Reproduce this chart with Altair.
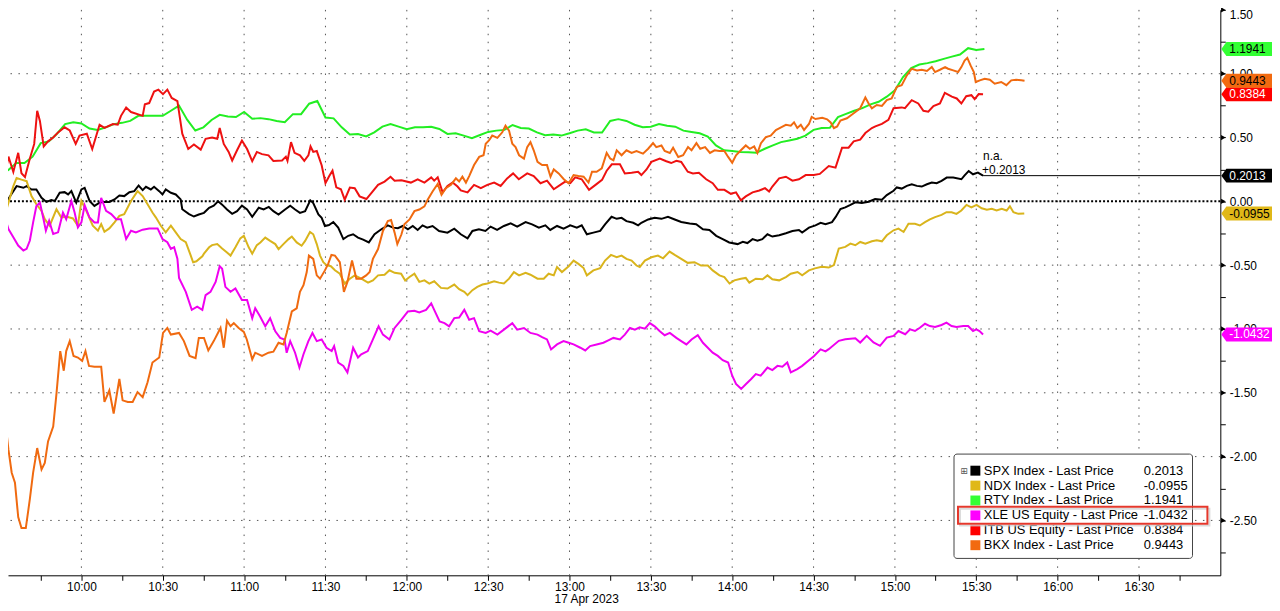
import altair as alt
import pandas as pd

# ---------------- data: (minutes after 09:30, % change) ----------------
spx = [(0,-0.05),(1.8,-0.023),(3.7,0.04),(6.1,0.119),(8.6,0.106),(9.8,0.119),(11.6,0.093),(13.4,0.093),(15.3,0.028),(17.1,-0.005),(18.9,0.01),(20.2,0.003),(22,0.067),(23.8,0.072),(25.1,0.054),(26.3,0.08),(28.1,-0.01),(30,0.093),(31.2,0.106),(33,0.003),(34.8,-0.036),(36.7,-0.01),(37.9,-0.005),(40.3,-0.005),(42.2,0.015),(44,0.046),(45.8,0.041),(47.7,0.072),(49.5,0.08),(51.1,0.124),(52.6,0.088),(53.8,0.114),(55.6,0.093),(56.8,0.114),(58.7,0.08),(59.9,0.054),(61.1,0.093),(63,0.067),(64.8,0.054),(66.6,0.015),(67.2,-0.062),(69.7,-0.10),(71.5,-0.119),(73.3,-0.103),(75.2,-0.09),(77.1,-0.05),(78.8,-0.034),(80.4,0.0),(81.9,-0.026),(83.7,-0.064),(85.6,-0.098),(87.4,-0.077),(89.2,-0.034),(91.1,-0.064),(93,-0.121),(95.4,-0.05),(97.2,-0.064),(99.1,-0.044),(100.8,-0.077),(102.7,-0.103),(105.1,-0.064),(107,-0.034),(108.8,-0.064),(110.6,-0.09),(112.5,-0.077),(114.4,0.008),(115.5,-0.013),(117.4,-0.103),(118.6,-0.129),(119.8,-0.193),(121.3,-0.186),(122.9,-0.162),(124.7,-0.206),(126.6,-0.296),(128.4,-0.27),(130.2,-0.258),(132,-0.284),(133.9,-0.30),(136,-0.322),(138.1,-0.258),(140.6,-0.219),(143,-0.188),(144.9,-0.206),(146.7,-0.21),(148.5,-0.193),(150.4,-0.219),(152.2,-0.193),(154,-0.224),(155.8,-0.188),(157.5,-0.206),(159.5,-0.193),(161.9,-0.232),(165,-0.245),(167.5,-0.214),(169.9,-0.258),(172.4,-0.29),(174.2,-0.232),(176.6,-0.219),(179,-0.232),(180.9,-0.198),(183.3,-0.224),(185.8,-0.193),(188.3,-0.173),(190.7,-0.198),(193.8,-0.162),(196.2,-0.18),(198.7,-0.206),(201.1,-0.188),(202.9,-0.224),(205.4,-0.193),(207.8,-0.214),(210.3,-0.188),(212.7,-0.206),(214.5,-0.188),(216.4,-0.258),(218.8,-0.245),(221.3,-0.232),(223.1,-0.18),(225.5,-0.121),(227.4,-0.137),(229.2,-0.129),(231,-0.155),(233.5,-0.168),(235.3,-0.188),(236.5,-0.168),(239,-0.142),(241.4,-0.129),(243.9,-0.137),(246.3,-0.121),(248.8,-0.142),(251.2,-0.162),(254.3,-0.173),(256.7,-0.18),(259.2,-0.219),(261.6,-0.224),(264.1,-0.27),(266.5,-0.296),(268.9,-0.322),(272,-0.335),(273.9,-0.317),(275.6,-0.327),(277.5,-0.296),(279.3,-0.309),(281.1,-0.296),(283,-0.258),(284.8,-0.276),(287.3,-0.265),(289.8,-0.25),(292.2,-0.232),(294.6,-0.224),(295.8,-0.245),(298.3,-0.206),(300.7,-0.188),(302.6,-0.168),(304.4,-0.18),(306.8,-0.163),(308.1,-0.124),(309.9,-0.06),(311.7,-0.047),(313.6,-0.028),(315.4,-0.008),(317.8,-0.013),(320.3,-0.003),(322.7,0.018),(325.2,0.013),(327,0.049),(329.5,0.083),(330.7,0.109),(332.5,0.10),(334.4,0.121),(336.2,0.134),(338.1,0.121),(339.9,0.116),(341.8,0.134),(343.6,0.147),(345.4,0.142),(347.2,0.16),(349.1,0.186),(351.5,0.186),(354.5,0.173),(355.7,0.204),(357.2,0.238),(358.8,0.212),(360.6,0.225),(362.5,0.2013)]

ndx = [(0,-0.204),(1.2,-0.152),(3.1,-0.01),(4.9,0.119),(6.1,0.183),(7.9,0.17),(9.8,0.158),(11.6,0.041),(13.4,-0.023),(15.3,-0.075),(16.5,-0.14),(18.3,-0.191),(20.8,-0.062),(22.6,-0.127),(24.4,-0.119),(26.9,-0.134),(28.7,-0.191),(30,0.003),(31.8,-0.075),(34.2,-0.191),(36.1,-0.23),(37.3,-0.178),(38.5,-0.238),(40.3,-0.212),(42.2,-0.165),(44,-0.114),(45.8,-0.10),(48.3,0.003),(50.7,0.08),(52.6,0.041),(54.4,-0.023),(56.2,-0.088),(57.5,-0.127),(59.3,-0.191),(61.1,-0.243),(63,-0.191),(64.8,-0.243),(66.6,-0.295),(68.5,-0.32),(70.3,-0.424),(71.2,-0.477),(72.4,-0.47),(74.6,-0.43),(75.2,-0.41),(77.1,-0.36),(78.2,-0.343),(80.1,-0.335),(81.9,-0.369),(83.7,-0.40),(85,-0.425),(86.8,-0.36),(88.6,-0.29),(89.9,-0.27),(91.7,-0.36),(93,-0.41),(94.7,-0.343),(96,-0.322),(97.8,-0.284),(99.6,-0.31),(101.5,-0.335),(102.7,-0.374),(104.5,-0.335),(106.4,-0.296),(107.6,-0.276),(109.4,-0.322),(111.2,-0.348),(112.5,-0.31),(114.3,-0.24),(115.5,-0.258),(116.8,-0.335),(118,-0.425),(119.2,-0.477),(120.4,-0.50),(122,-0.508),(123.5,-0.54),(125.3,-0.567),(127.1,-0.644),(129,-0.606),(130.8,-0.58),(133.2,-0.606),(135.7,-0.637),(137.5,-0.619),(139.4,-0.58),(141.8,-0.575),(143.6,-0.54),(145.5,-0.56),(147.9,-0.567),(149.4,-0.62),(151,-0.593),(152.8,-0.567),(154.6,-0.631),(156.5,-0.619),(158.3,-0.644),(160.1,-0.626),(162.6,-0.678),(165,-0.683),(167.5,-0.652),(169.3,-0.688),(171.2,-0.709),(172.4,-0.735),(174.2,-0.696),(176,-0.67),(177.9,-0.652),(179.7,-0.644),(182.2,-0.626),(184,-0.637),(185.8,-0.644),(187.7,-0.606),(189.5,-0.554),(191.4,-0.58),(193.8,-0.56),(195.6,-0.575),(198.2,-0.606),(200.5,-0.606),(202.3,-0.567),(204.2,-0.58),(205.4,-0.515),(207.2,-0.554),(209.7,-0.508),(211.5,-0.464),(213.3,-0.49),(215.2,-0.523),(216.4,-0.58),(218.8,-0.541),(221.3,-0.523),(223.1,-0.464),(225.3,-0.42),(227.4,-0.438),(229.2,-0.425),(231,-0.451),(232.9,-0.464),(234.7,-0.503),(235.9,-0.515),(237.8,-0.464),(240.2,-0.438),(242.6,-0.425),(244.5,-0.446),(246.9,-0.394),(248.8,-0.42),(251.2,-0.451),(253.6,-0.482),(256.1,-0.477),(258.5,-0.503),(261,-0.503),(262.8,-0.541),(265.3,-0.58),(267.1,-0.593),(269,-0.644),(270.8,-0.619),(273.2,-0.606),(275,-0.60),(276.3,-0.637),(278.7,-0.606),(281.2,-0.611),(283,-0.58),(284.8,-0.611),(287.3,-0.619),(289.8,-0.593),(291.6,-0.567),(294.1,-0.554),(295.8,-0.58),(298.3,-0.541),(300.5,-0.525),(303,-0.512),(305.6,-0.519),(307.5,-0.499),(309.3,-0.37),(311.7,-0.357),(313.6,-0.331),(315.4,-0.344),(317.2,-0.318),(319.1,-0.331),(321.5,-0.313),(323.3,-0.305),(325.2,-0.313),(327,-0.266),(329.5,-0.227),(331.3,-0.214),(333.2,-0.24),(335,-0.176),(337.4,-0.176),(339.2,-0.189),(341.1,-0.163),(342.9,-0.142),(344.8,-0.124),(347.2,-0.106),(349,-0.085),(350.9,-0.085),(352.7,-0.098),(354.5,-0.072),(356.4,-0.028),(358.2,-0.047),(360.1,-0.028),(362,-0.054),(363.9,-0.065),(365.7,-0.059),(367.5,-0.072),(369.4,-0.059),(371.2,-0.072),(372.4,-0.039),(373.7,-0.085),(375.5,-0.098),(377.7,-0.0955)]

rty = [(0,0.206),(3,0.245),(6,0.30),(9,0.30),(12,0.35),(15,0.456),(18,0.47),(21,0.53),(24,0.605),(27,0.62),(30,0.61),(33,0.57),(36,0.56),(39,0.58),(42,0.605),(45,0.615),(48,0.63),(51,0.67),(54,0.67),(57,0.67),(60,0.67),(63,0.71),(66,0.75),(69,0.64),(72,0.555),(75,0.58),(78,0.637),(81,0.678),(84,0.665),(87,0.66),(90,0.70),(93,0.647),(96,0.652),(99,0.644),(102,0.63),(105,0.62),(108,0.683),(111,0.683),(114,0.765),(117,0.786),(120,0.657),(123,0.65),(126,0.58),(129,0.523),(132,0.528),(135,0.508),(138,0.54),(141,0.585),(144,0.605),(147,0.585),(150,0.565),(153,0.58),(156,0.58),(159,0.585),(162,0.567),(165,0.528),(168,0.533),(171,0.515),(174,0.495),(177,0.52),(180,0.544),(183,0.554),(186,0.56),(189,0.598),(192,0.575),(195,0.57),(198,0.54),(201,0.518),(204,0.523),(207,0.515),(210,0.533),(213,0.554),(216,0.564),(219,0.54),(222,0.539),(225,0.63),(228,0.644),(231,0.63),(234,0.60),(237,0.58),(240,0.585),(243,0.606),(246,0.593),(249,0.585),(252,0.554),(255,0.544),(258,0.533),(261,0.508),(264,0.438),(267,0.40),(270,0.394),(273,0.387),(276,0.384),(279,0.381),(282,0.412),(285,0.438),(288,0.464),(291,0.477),(294,0.49),(297,0.515),(300,0.56),(303,0.575),(306,0.576),(309,0.66),(312,0.685),(315,0.71),(318,0.73),(321,0.76),(324,0.78),(327,0.82),(330,0.87),(333,0.974),(336,1.044),(339,1.072),(342,1.083),(345,1.098),(348,1.116),(351,1.134),(354,1.15),(357,1.20),(360,1.186),(363,1.1941)]

xle = [(0,0.003),(1.2,-0.088),(3.1,-0.217),(4.9,-0.282),(6.7,-0.346),(8.6,-0.385),(9.8,-0.372),(11,-0.307),(12.2,-0.165),(13.4,-0.036),(14.7,-0.01),(15.9,-0.127),(16.9,-0.23),(18.1,-0.152),(19.6,-0.256),(21.4,-0.243),(23.2,-0.088),(24.4,-0.14),(26.3,0.003),(27.5,-0.088),(28.7,-0.204),(30,-0.165),(31.2,-0.031),(33,-0.127),(34.8,-0.165),(36.1,-0.165),(37.3,0.028),(39.1,-0.075),(41,-0.10),(42.8,-0.14),(44.6,-0.14),(46.5,-0.295),(48.3,-0.23),(50.1,-0.243),(52.6,-0.222),(55,-0.212),(58.1,-0.212),(59.9,-0.295),(61.7,-0.32),(63,-0.372),(64.2,-0.359),(65.4,-0.45),(66,-0.6),(68.5,-0.709),(70.7,-0.85),(72.7,-0.825),(74.6,-0.85),(75.8,-0.735),(77.6,-0.709),(79.5,-0.631),(81,-0.508),(81.9,-0.528),(83.1,-0.67),(85,-0.709),(86.8,-0.683),(89.2,-0.773),(91.1,-0.773),(93,-0.915),(94.1,-0.838),(95.9,-0.902),(97.8,-0.979),(99.6,-0.915),(101.5,-1.018),(103.3,-1.07),(104.9,-1.082),(105.7,-1.186),(107,-1.095),(108.8,-1.186),(110.4,-1.302),(111.9,-1.198),(113.7,-1.095),(115.2,-1.031),(116.8,-1.095),(118.6,-1.082),(120.4,-1.147),(122.3,-1.173),(123.2,-1.134),(124.7,-1.263),(126.6,-1.289),(128.1,-1.34),(130.2,-1.147),(132,-1.224),(133.2,-1.198),(135.6,-1.173),(137.5,-1.082),(139.6,-0.979),(141.2,-1.044),(143.6,-1.082),(145.5,-0.992),(147.9,-0.93),(150.4,-0.863),(152.8,-0.858),(154.6,-0.871),(157.1,-0.85),(159,-0.799),(160.1,-0.85),(162.1,-0.941),(163.9,-0.954),(165.6,-0.979),(167.5,-0.915),(169.3,-0.91),(171.2,-0.85),(173,-0.928),(174.8,-0.915),(176.7,-1.018),(179.1,-1.031),(180.9,-1.013),(183.4,-1.044),(185.8,-1.005),(188.9,-0.954),(190.7,-1.005),(193.2,-0.992),(195.6,-1.031),(198.2,-1.044),(199.9,-1.064),(201.7,-1.082),(203.2,-1.16),(205.4,-1.121),(207.8,-1.095),(209.7,-1.108),(211.5,-1.121),(214,-1.147),(215.8,-1.168),(217.6,-1.134),(220,-1.121),(222.5,-1.108),(224.3,-1.09),(226.2,-1.07),(228.6,-1.082),(230.4,-1.044),(232.3,-0.992),(234.1,-1.005),(235.9,-0.987),(237.8,-0.997),(239.6,-0.954),(241.4,-0.979),(243.3,-1.018),(245.1,-1.049),(247,-1.031),(249.4,-1.07),(251.2,-1.095),(253.1,-1.121),(255,-1.082),(257.3,-1.049),(259.2,-1.108),(261,-1.147),(262.8,-1.186),(264.7,-1.211),(266.5,-1.245),(268.5,-1.263),(270,-1.366),(271.4,-1.431),(273.3,-1.469),(275.1,-1.431),(277,-1.392),(278.7,-1.353),(280.5,-1.366),(283,-1.302),(284.8,-1.322),(286.7,-1.289),(288.5,-1.296),(290.3,-1.263),(291.6,-1.34),(294,-1.314),(295.8,-1.289),(298.3,-1.245),(300.2,-1.211),(302.6,-1.16),(304.4,-1.175),(305.6,-1.158),(309.3,-1.093),(311.7,-1.08),(315.4,-1.072),(317.2,-1.106),(319.6,-1.054),(322.1,-1.106),(324.5,-1.132),(327,-1.067),(329.5,-1.054),(331.3,-1.016),(333.8,-1.041),(335.6,-1.003),(337.4,-1.016),(339.2,-0.99),(341.1,-0.959),(342.9,-0.977),(344.8,-0.985),(347.2,-0.969),(349,-0.951),(350.9,-0.977),(352.7,-0.985),(355.2,-0.977),(357,-0.977),(358.8,-1.016),(360,-1.003),(361.2,-1.016),(362.5,-1.0432)]

itb = [(0,0.0),(1.2,0.14),(3.1,0.35),(4.9,0.23),(6.7,0.38),(7.9,0.22),(9.2,0.19),(11,0.335),(12.6,0.45),(13.7,0.71),(14.7,0.63),(16.1,0.43),(17.7,0.47),(19.6,0.50),(21.4,0.54),(23.8,0.58),(25.7,0.555),(27.9,0.45),(29.3,0.515),(32,0.53),(34,0.41),(36.7,0.60),(38.5,0.575),(41.6,0.605),(43.4,0.60),(44.6,0.67),(46.5,0.735),(48.3,0.70),(52.6,0.67),(53.4,0.76),(55,0.77),(56.8,0.86),(58.4,0.875),(60.1,0.84),(61.7,0.875),(63.3,0.81),(65.4,0.785),(67.2,0.53),(69.4,0.41),(71.5,0.445),(74,0.405),(75.8,0.49),(78.2,0.50),(80.1,0.49),(81,0.575),(82.5,0.45),(84.3,0.387),(85.6,0.32),(87.4,0.40),(89.2,0.477),(91.1,0.41),(93,0.315),(94.7,0.387),(96.6,0.37),(99,0.36),(100.8,0.317),(104,0.32),(105.4,0.35),(106,0.317),(107.3,0.464),(108.6,0.38),(110.6,0.36),(112.2,0.317),(113.7,0.36),(114.5,0.43),(115.5,0.387),(116.8,0.394),(118.6,0.283),(120,0.142),(121.4,0.198),(122.6,0.24),(124,0.11),(125.7,0.095),(127.1,0.013),(129,0.108),(130.8,0.103),(132.6,0.039),(135.1,0.018),(136.9,0.064),(139.4,0.129),(141.8,0.155),(144,0.193),(145.5,0.162),(148,0.165),(151.5,0.147),(154,0.173),(156.5,0.147),(159,0.188),(160.1,0.162),(161.4,0.188),(163.2,0.07),(165,0.121),(166.9,0.147),(168.7,0.116),(169.9,0.085),(172.4,0.07),(174.8,0.129),(177.3,0.103),(179.7,0.129),(182.2,0.147),(184.6,0.121),(187,0.18),(189.2,0.219),(191.3,0.173),(194.4,0.219),(196.8,0.198),(199.3,0.142),(201.7,0.162),(204.2,0.095),(206.6,0.129),(208.4,0.155),(210.3,0.142),(212.1,0.188),(214.5,0.173),(217.2,0.09),(219.6,0.129),(222,0.168),(223.7,0.24),(225.6,0.29),(228.6,0.29),(230.4,0.219),(232.9,0.224),(235.3,0.232),(236.5,0.206),(238.4,0.25),(240.2,0.309),(243.3,0.335),(245.7,0.314),(247.5,0.30),(249.4,0.317),(251.2,0.309),(253.6,0.232),(255.5,0.219),(257.7,0.224),(260.4,0.173),(262.8,0.142),(264.7,0.09),(267.1,0.09),(269.5,0.059),(271.4,0.07),(273.2,0.008),(275,0.039),(277.5,0.07),(280,0.085),(282.1,0.103),(283.6,0.077),(284.8,0.116),(287.3,0.18),(289.8,0.193),(292.2,0.162),(294.6,0.173),(297.1,0.206),(300.1,0.206),(302.3,0.215),(305.6,0.276),(308.1,0.264),(310.5,0.42),(312.9,0.42),(314.8,0.47),(317.2,0.483),(319.1,0.535),(321.5,0.574),(322.8,0.587),(325.2,0.607),(327.6,0.638),(329.5,0.73),(332.5,0.736),(333.7,0.73),(336.2,0.793),(338.6,0.767),(340.5,0.71),(342.3,0.703),(344.2,0.747),(346.6,0.767),(348.4,0.85),(351,0.82),(352.8,0.806),(354.5,0.767),(356.3,0.824),(358.2,0.832),(359.4,0.80),(360.9,0.84),(362.5,0.8384)]

bkx = [(0,-1.198),(0.6,-1.637),(1.8,-1.70),(3.1,-1.946),(4.3,-2.126),(5.5,-2.204),(6.7,-2.474),(7.9,-2.56),(9.5,-2.56),(11,-2.332),(12.2,-2.126),(13.7,-1.933),(15.3,-2.10),(16.5,-2.049),(17.7,-1.881),(19.6,-1.765),(20.8,-1.508),(22.2,-1.173),(23.5,-1.327),(24.4,-1.173),(25.7,-1.095),(27.1,-1.211),(28.7,-1.224),(30.3,-1.25),(31.5,-1.173),(32.8,-1.289),(34.8,-1.296),(37.3,-1.296),(38.5,-1.572),(40.3,-1.482),(41.9,-1.662),(44,-1.392),(45.2,-1.559),(47.1,-1.572),(48.9,-1.572),(50.7,-1.495),(52.6,-1.534),(54.4,-1.418),(56.2,-1.263),(58.7,-1.224),(60.1,-1.031),(61.7,-0.992),(63,-1.044),(66,-1.031),(67.8,-1.095),(69.9,-1.211),(72.1,-1.229),(73.3,-1.07),(75.2,-1.07),(76.8,-1.168),(78.8,-1.095),(81.3,-0.992),(82.5,-1.147),(83.7,-0.936),(85,-0.979),(86.2,-0.954),(88,-0.992),(89.9,-1.023),(91,-1.082),(93,-1.237),(94.1,-1.186),(96.6,-1.211),(99,-1.186),(100.8,-1.178),(102.7,-1.108),(104.5,-1.121),(105.7,-1.031),(107.6,-0.863),(109.4,-0.838),(110.6,-0.709),(111.9,-0.657),(113.1,-0.554),(113.9,-0.425),(115.5,-0.451),(116.8,-0.58),(118,-0.606),(119.8,-0.541),(121,-0.49),(122.2,-0.42),(123.5,-0.425),(125.3,-0.477),(126.8,-0.709),(128.1,-0.631),(129.8,-0.464),(131.4,-0.606),(133.2,-0.606),(135,-0.58),(136.3,-0.554),(137.5,-0.451),(139.4,-0.374),(141.2,-0.232),(143,-0.155),(144.2,-0.147),(145.5,-0.245),(146.5,-0.335),(148,-0.26),(149.1,-0.18),(151,-0.142),(152.8,-0.077),(154.6,-0.064),(156.5,-0.039),(157.7,0.013),(159.5,0.077),(161.4,0.137),(162.8,0.052),(164.4,0.103),(166.3,0.129),(168.1,0.18),(169.3,0.155),(170.5,0.193),(171.8,0.147),(173,0.198),(174.8,0.284),(176.7,0.348),(178.3,0.361),(179.1,0.451),(180.3,0.477),(181.5,0.515),(183.4,0.497),(185.2,0.541),(186.4,0.593),(187.7,0.554),(188.9,0.451),(190.1,0.425),(191.4,0.361),(193.2,0.335),(194.4,0.425),(195.6,0.464),(196.8,0.40),(198.2,0.309),(199.9,0.284),(201.7,0.284),(203,0.193),(204.2,0.25),(206,0.219),(207.9,0.173),(209.7,0.142),(211.5,0.206),(213.3,0.198),(215.2,0.193),(217,0.147),(218.3,0.232),(220,0.232),(221.9,0.258),(223.7,0.38),(225,0.335),(226.2,0.322),(227.4,0.40),(229.2,0.361),(231,0.40),(232.9,0.379),(234.7,0.394),(237.1,0.374),(239,0.412),(240.8,0.456),(242,0.425),(243.9,0.438),(245.1,0.394),(247,0.379),(248.2,0.42),(250.1,0.348),(251.9,0.361),(253.7,0.425),(255,0.40),(256.8,0.456),(258.2,0.412),(260,0.425),(261.8,0.379),(263.5,0.40),(265.3,0.394),(267.1,0.394),(268.5,0.348),(270,0.302),(271.4,0.361),(273.2,0.40),(275,0.438),(276.5,0.412),(278.1,0.43),(279.3,0.379),(280.6,0.456),(282.4,0.503),(284.2,0.515),(286.1,0.559),(288,0.58),(289.8,0.60),(291.6,0.593),(292.8,0.619),(294,0.575),(295.3,0.60),(296.5,0.559),(298.3,0.606),(299.3,0.662),(300.7,0.645),(303.2,0.655),(305,0.643),(306.3,0.618),(307.5,0.574),(308.7,0.587),(309.9,0.633),(312.3,0.651),(314.8,0.69),(317.2,0.729),(319.1,0.814),(320.3,0.767),(321.5,0.729),(323.3,0.755),(325.2,0.747),(327,0.793),(328.8,0.806),(330.7,0.897),(332.5,0.91),(334.4,0.987),(336.2,1.039),(338.1,1.026),(339.9,1.031),(341.8,1.021),(343.6,1.052),(344.8,1.013),(346.6,1.031),(348.5,1.052),(349.6,1.039),(351.5,1.026),(353.3,1.013),(354.5,1.052),(355.7,1.103),(356.7,1.124),(357.9,1.065),(359.1,1.013),(359.8,0.935),(361.3,0.948),(363.1,0.961),(365,0.953),(366.8,0.922),(369.2,0.935),(371.1,0.91),(372.9,0.948),(374.7,0.953),(376.6,0.948),(377.8,0.9443)]

series_names = ["SPX Index - Last Price", "NDX Index - Last Price", "RTY Index - Last Price",
                "XLE US Equity - Last Price", "ITB US Equity - Last Price", "BKX Index - Last Price"]
series_points = [spx, ndx, rty, xle, itb, bkx]
line_colors = ["#000000", "#d9b41c", "#22ee22", "#f000f0", "#ee1111", "#f06a10"]
tag_colors = ["#000000", "#e0b818", "#33ff33", "#ff00ff", "#ff0000", "#f26a10"]
tag_text_colors = ["#ffffff", "#000000", "#000000", "#ffffff", "#ffffff", "#000000"]
last_values = [0.2013, -0.0955, 1.1941, -1.0432, 0.8384, 0.9443]
last_labels = ["0.2013", "-0.0955", "1.1941", "-1.0432", "0.8384", "0.9443"]
y_grid = [-2.5, -2.0, -1.5, -1.0, -0.5, 0.5, 1.0]
y_ticks = [-2.75 + 0.25 * i for i in range(18)]
x_grid_labels = ["10:00", "10:30", "11:00", "11:30", "12:00", "12:30", "13:00",
                 "13:30", "14:00", "14:30", "15:00", "15:30", "16:00", "16:30"]
date_label = "17 Apr 2023"
spx_note = ["n.a.", "+0.2013"]

# ---------------- build tables ----------------
OPEN = pd.Timestamp("2023-04-17 09:30:00")


def at(minutes):
    return OPEN + pd.Timedelta(seconds=round(minutes * 60))


W, H = 1220, 569
FONT = "Liberation Sans"

xsc = alt.Scale(domain=[alt.DateTime(year=2023, month=4, date=17, hours=9, minutes=32, seconds=56),
                        alt.DateTime(year=2023, month=4, date=17, hours=17, minutes=0)], nice=False)
ysc = alt.Scale(domain=[-2.93, 1.5], nice=False, zero=False)

x_tick_vals = [alt.DateTime(year=2023, month=4, date=17, hours=9 + (45 + 15 * i) // 60,
                            minutes=(45 + 15 * i) % 60) for i in range(29)]
xax = alt.Axis(values=x_tick_vals, format="%H:%M",
               labelExpr="minutes(datum.value) % 30 == 0 ? timeFormat(datum.value, '%H:%M') : ''",
               grid=False, title=None, tickSize=5, tickColor="#000", domainColor="#000",
               labelFont=FONT, labelFontSize=12, labelColor="#000", labelPadding=1,
               labelOverlap=False, labelFlush=False)
yax = alt.Axis(orient="right", values=y_ticks, grid=False, title=None, tickSize=5,
               tickColor="#000", domainColor="#000",
               labelExpr="abs(datum.value*2 - round(datum.value*2)) < 0.01 ? replace(format(datum.value, '.2f'), '\u2212', '-') : ''",
               labelFont=FONT, labelFontSize=12, labelColor="#000", labelPadding=4,
               labelOverlap=False, labelFlush=True)

X = lambda f: alt.X(f, scale=xsc, axis=xax)
Y = lambda f: alt.Y(f, scale=ysc, axis=yax)

layers = []

# horizontal grid
layers.append(alt.Chart(pd.DataFrame({"g": y_grid})).mark_rule(
    color="#555", strokeWidth=1, strokeDash=[1.5, 6.5]).encode(y=Y("g:Q")))
# vertical grid
gx = pd.DataFrame({"gt": [pd.Timestamp("2023-04-17 " + s) for s in x_grid_labels]})
layers.append(alt.Chart(gx).mark_rule(
    color="#555", strokeWidth=1, strokeDash=[1.5, 6.5]).encode(x=X("gt:T")))
# zero line
layers.append(alt.Chart(pd.DataFrame({"z": [0.0]})).mark_rule(
    color="#000", strokeWidth=2, strokeDash=[2, 2]).encode(y=Y("z:Q")))

# series lines
for name, pts, col in zip(series_names, series_points, line_colors):
    d = pd.DataFrame({"time": [at(t) for t, _ in pts], "value": [v for _, v in pts]})
    layers.append(alt.Chart(d).mark_line(color=col, strokeWidth=2, clip=True).encode(
        x=X("time:T"), y=Y("value:Q")))

# SPX last value extension and note
spx_end = pd.DataFrame({"t": [at(spx[-1][0])], "v": [last_values[0]]})
layers.append(alt.Chart(spx_end).mark_rule(color="#000", strokeWidth=1).encode(
    x=X("t:T"), x2=alt.value(W), y=Y("v:Q")))
layers.append(alt.Chart(spx_end).mark_text(align="left", baseline="middle", font=FONT,
                                           fontSize=12, dx=0, dy=-20, color="#000").encode(
    x=X("t:T"), y=Y("v:Q"), text=alt.value(spx_note[0])))
layers.append(alt.Chart(spx_end).mark_text(align="left", baseline="middle", font=FONT,
                                           fontSize=12, dx=-1, dy=-6, color="#000").encode(
    x=X("t:T"), y=Y("v:Q"), text=alt.value(spx_note[1])))

# major tick arrow heads on the right axis
major = pd.DataFrame({"m": [-2.5, -2.0, -1.5, -1.0, -0.5, 0.0, 0.5, 1.0, 1.5]})
layers.append(alt.Chart(major).mark_point(shape="triangle-right", filled=True, size=28,
                                          color="#000", opacity=1).encode(
    x=alt.value(W + 3), y=Y("m:Q")))

# value tags
tags = pd.DataFrame({"v": last_values, "lab": last_labels, "fill": tag_colors, "tc": tag_text_colors})
tag_shape = "M -1 0 L -0.8 -0.275 L 1 -0.275 L 1 0.275 L -0.8 0.275 Z"
layers.append(alt.Chart(tags).mark_point(shape=tag_shape, filled=True, size=2601, opacity=1).encode(
    x=alt.value(W + 26.5), y=Y("v:Q"), color=alt.Color("fill:N", scale=None)))
layers.append(alt.Chart(tags).mark_text(align="left", baseline="middle", font=FONT, fontSize=12).encode(
    x=alt.value(W + 9), y=Y("v:Q"), text="lab:N", color=alt.Color("tc:N", scale=None)))

# legend box
one = pd.DataFrame({"k": [0]})
layers.append(alt.Chart(one).mark_rect(fill="#ffffff", stroke="#444", strokeWidth=1,
                                       cornerRadius=3).encode(
    x=alt.value(952), x2=alt.value(1192), y=alt.value(447), y2=alt.value(552)))
leg = pd.DataFrame({"name": series_names, "val": last_labels, "c": tag_colors,
                    "ly": [463.7 + 15 * i for i in range(len(series_names))]})
layers.append(alt.Chart(leg).mark_square(size=100, opacity=1).encode(
    x=alt.value(973.5), y=alt.Y("ly:Q", scale=None), color=alt.Color("c:N", scale=None)))
layers.append(alt.Chart(leg).mark_text(align="left", baseline="middle", font=FONT, fontSize=13,
                                       color="#000").encode(
    x=alt.value(982), y=alt.Y("ly:Q", scale=None), text="name:N"))
layers.append(alt.Chart(leg).mark_text(align="left", baseline="middle", font=FONT, fontSize=13,
                                       color="#000").encode(
    x=alt.value(1143), y=alt.Y("ly:Q", scale=None), text="val:N"))
layers.append(alt.Chart(one).mark_text(align="center", baseline="middle", font="DejaVu Sans",
                                       fontSize=9, color="#555").encode(
    x=alt.value(962), y=alt.value(463.7), text=alt.value("\u229e")))
# highlight around XLE row
layers.append(alt.Chart(one).mark_rect(fill=None, stroke="#cccccc", strokeWidth=2, opacity=0.7).encode(
    x=alt.value(958), x2=alt.value(1209), y=alt.value(502), y2=alt.value(519)))
layers.append(alt.Chart(one).mark_rect(fill=None, stroke="#e5382c", strokeWidth=2).encode(
    x=alt.value(956), x2=alt.value(1207), y=alt.value(500), y2=alt.value(517)))

# date under the 13:00 label
dd = pd.DataFrame({"d": [pd.Timestamp("2023-04-17 13:00")], "lab": [date_label]})
layers.append(alt.Chart(dd).mark_text(align="left", baseline="middle", font=FONT, fontSize=12,
                                      dx=-15, color="#000").encode(
    x=X("d:T"), y=alt.value(H + 24), text="lab:N"))

chart = alt.layer(*layers).properties(
    width=W, height=H,
    autosize=alt.AutoSizeParams(type="none"),
    padding={"left": 0, "top": 0, "right": 52, "bottom": 32},
    background="#ffffff",
).configure_view(stroke=None)

chart.save("out.html", embed_options={"renderer": "svg", "actions": False})
